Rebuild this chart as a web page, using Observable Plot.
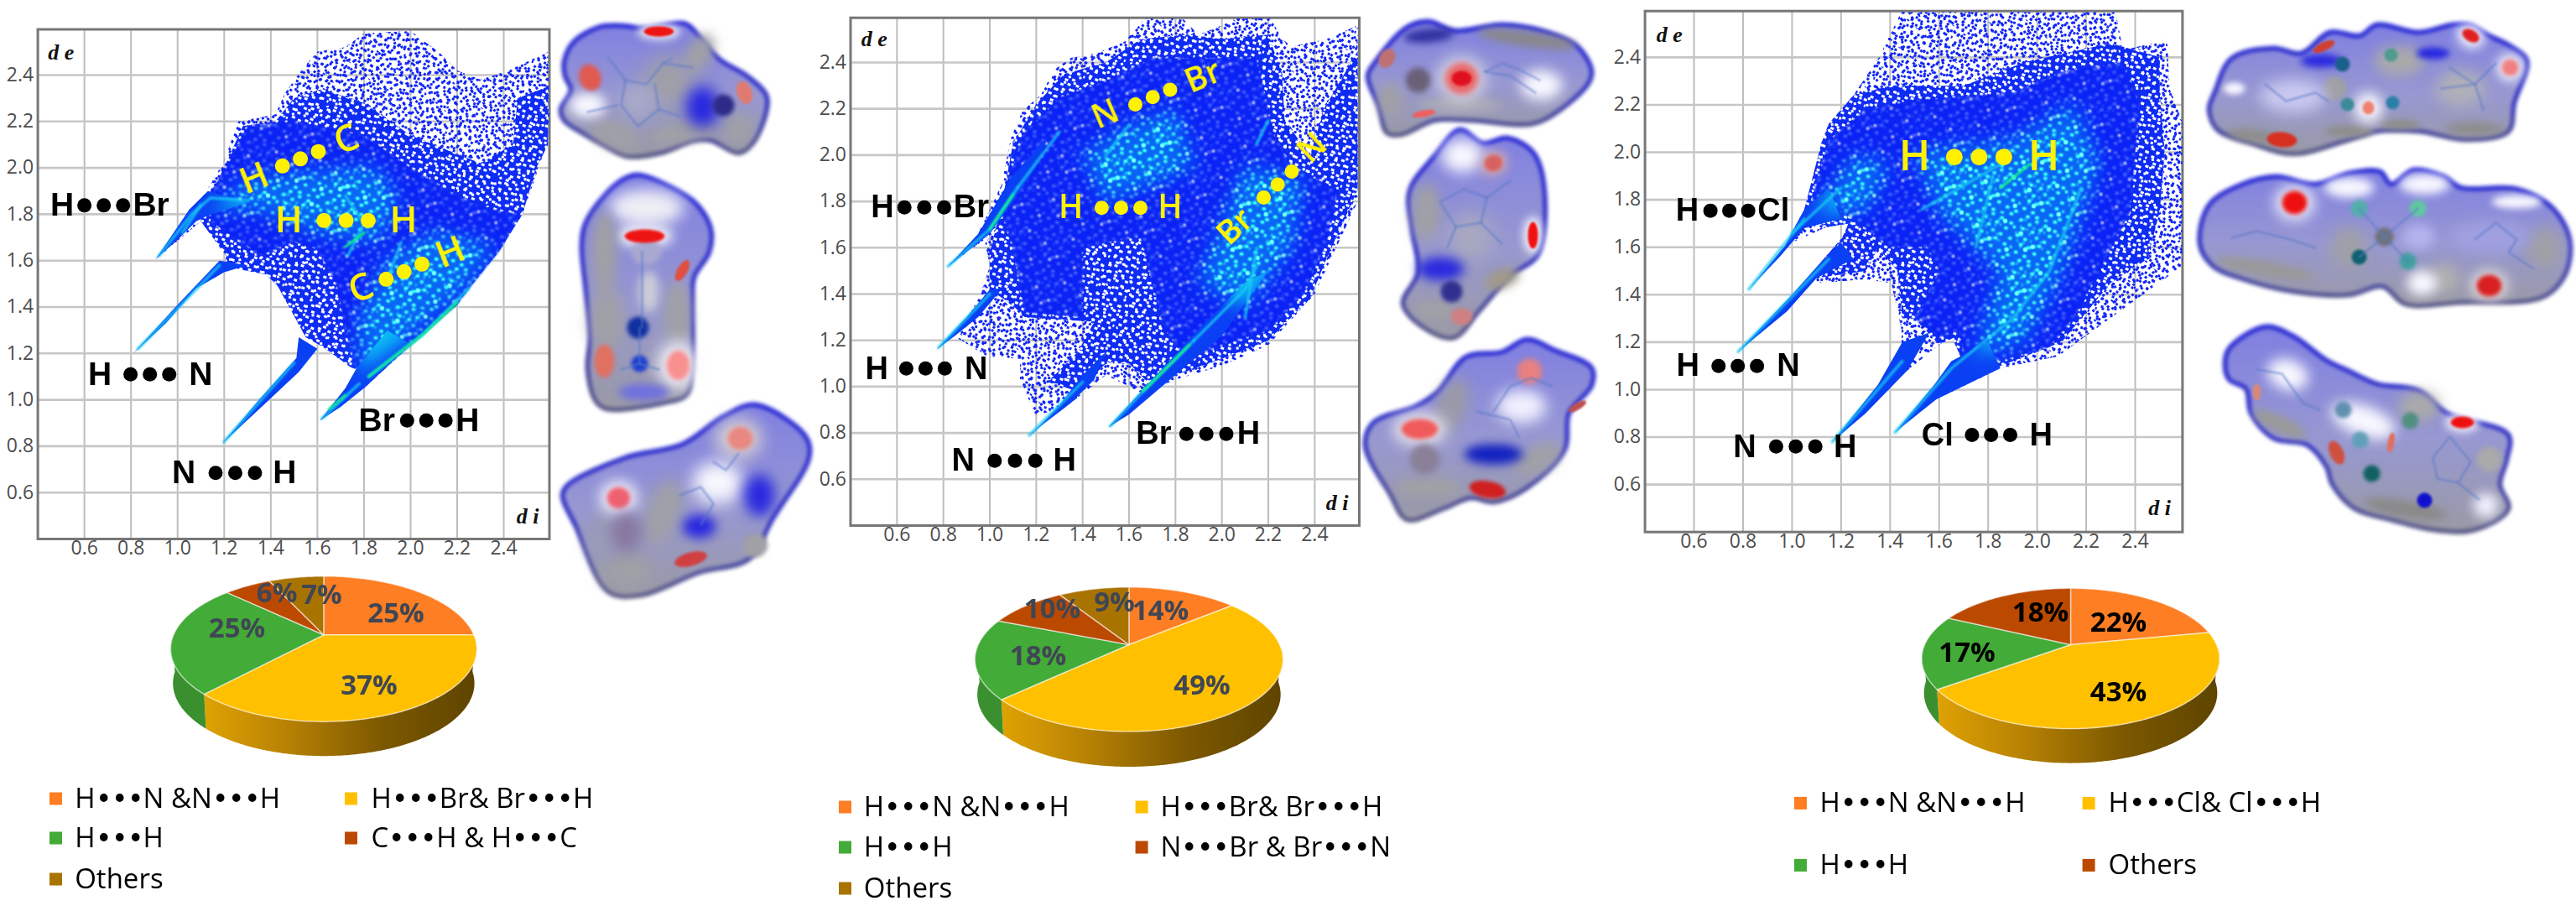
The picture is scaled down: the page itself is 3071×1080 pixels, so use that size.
<!DOCTYPE html>
<html><head><meta charset="utf-8">
<script src="https://cdn.jsdelivr.net/npm/d3@7"></script>
<script src="https://cdn.jsdelivr.net/npm/@observablehq/plot@0.6"></script>
<style>
@font-face{font-family:Bul;src:local("DejaVu Sans");unicode-range:U+2022}
html,body{margin:0;background:#fff}
#page{position:relative;width:3071px;height:1080px;overflow:hidden}
#page>svg.layer{position:absolute;max-width:none}
</style></head><body><div id="page"></div>
<script>
// ---------- tick values ----------
const xTicks=[.6,.8,1,1.2,1.4,1.6,1.8,2,2.2,2.4];
const yTicks=[.6,.8,1,1.2,1.4,1.6,1.8,2,2.2,2.4];

// ---------- fingerprint regions, read as [di, de] ----------
const hull1=[[.91,1.61],[1.02,1.73],[1.1,1.86],[1.2,2.03],[1.26,2.2],[1.42,2.23],[1.46,2.32],[1.53,2.42],[1.6,2.5],[1.72,2.52],[1.8,2.58],[2,2.59],[2.12,2.5],[2.2,2.42],[2.3,2.38],[2.42,2.42],[2.59,2.5],[2.594,2.3],[2.594,2.14],[2.55,2],[2.48,1.8],[2.38,1.64],[2.26,1.49],[2.2,1.41],[2,1.235],[1.8,1.05],[1.77,1.13],[1.745,1.14],[1.62,1.23],[1.55,1.27],[1.43,1.49],[1.38,1.54],[1.28,1.56],[1.2,1.58],[1.21,1.62],[1.165,1.68],[1.1,1.77]];
const medium1=[[1.1,1.8],[1.2,2],[1.28,2.18],[1.42,2.2],[1.5,2.3],[1.62,2.34],[1.8,2.28],[2,2.14],[2.15,2.08],[2.3,2.02],[2.44,2.1],[2.46,2.3],[2.59,2.35],[2.59,2.1],[2.54,2],[2.48,1.8],[2.38,1.64],[2.26,1.49],[2.2,1.41],[2,1.235],[1.8,1.05],[1.77,1.13],[1.745,1.14],[1.62,1.23],[1.55,1.27],[1.43,1.49],[1.38,1.54],[1.28,1.56],[1.2,1.58],[1.21,1.62],[1.165,1.68],[1.1,1.77]];
const dense1=[[1.12,1.86],[1.22,2.02],[1.3,2.18],[1.5,2.2],[1.8,2.14],[2,2],[2.2,1.88],[2.35,1.82],[2.47,1.8],[2.38,1.64],[2.26,1.49],[2.2,1.41],[2,1.235],[1.8,1.06],[1.76,1.15],[1.72,1.3],[1.68,1.5],[1.6,1.65],[1.5,1.68],[1.35,1.62],[1.25,1.7],[1.15,1.76]];
const spikes1=[[[.905,1.605],[1.05,1.82],[1.13,1.9],[1.3,1.85],[1.12,1.79],[1.08,1.77],[1,1.69]],[[.81,1.2],[1,1.41],[1.18,1.6],[1.3,1.58],[1.2,1.55],[1.08,1.48],[.95,1.33]],[[1.19,.81],[1.35,1],[1.51,1.18],[1.52,1.27],[1.6,1.22],[1.52,1.12],[1.35,.96]],[[1.61,.91],[1.72,1.05],[1.77,1.14],[1.9,1.3],[2,1.24],[1.8,1.05],[1.7,.97]]];
const cores1=[[[1.15,1.82],[1.3,1.95],[1.55,1.98],[1.85,2],[1.95,1.85],[1.85,1.68],[1.6,1.72],[1.35,1.82]],[[1.78,1.12],[2,1.28],[2.2,1.45],[2.36,1.66],[2.1,1.72],[1.9,1.6],[1.78,1.35]]];
const streaks1=[[[.92,1.62],[1.06,1.8],[1.14,1.87],[1.3,1.86]],[[.83,1.22],[1.18,1.58]],[[1.2,.82],[1.5,1.16]],[[1.62,.92],[1.78,1.07]],[[1.82,1.1],[2.05,1.28],[2.25,1.48]],[[1.73,1.62],[1.8,1.76],[1.72,1.88]],[[1.02,1.72],[1.1,1.84]],[[1.9,1.52],[1.96,1.68]]];

const hull2=[[.818,1.518],[.95,1.66],[1.05,1.87],[1.09,2.07],[1.14,2.19],[1.22,2.26],[1.28,2.37],[1.35,2.42],[1.46,2.44],[1.58,2.49],[1.67,2.59],[1.83,2.59],[1.9,2.52],[2,2.56],[2.06,2.59],[2.21,2.59],[2.26,2.5],[2.3,2.47],[2.45,2.5],[2.585,2.56],[2.585,1.8],[2.4,1.4],[2.2,1.18],[2,1.09],[1.8,1.03],[1.66,.97],[1.54,1.03],[1.5,1.05],[1.35,.93],[1.2,.87],[1.13,1.03],[1.13,1.12],[.99,1.13],[.86,1.21],[.96,1.4],[1,1.52],[.98,1.62],[1.01,1.66]];
const medium2=[[1.05,1.78],[1.1,2.05],[1.2,2.22],[1.32,2.35],[1.5,2.4],[1.65,2.5],[1.85,2.52],[2,2.5],[2.2,2.52],[2.26,2.35],[2.27,2.15],[2.38,2],[2.44,2.2],[2.585,2.45],[2.585,1.85],[2.45,1.55],[2.38,1.38],[2.2,1.2],[2,1.12],[1.8,1.05],[1.7,1],[1.6,1.1],[1.5,1.1],[1.38,.98],[1.25,1.02],[1.38,1.15],[1.45,1.28],[1.15,1.3],[1.1,1.35],[1,1.42],[1,1.58]];
const dense2=[[1.08,1.9],[1.15,2.1],[1.3,2.25],[1.5,2.32],[1.7,2.42],[2.15,2.42],[2.22,2.1],[2.3,1.95],[2.5,1.85],[2.45,1.62],[2.35,1.4],[2.2,1.24],[2,1.18],[1.85,1.12],[1.75,1.25],[1.7,1.45],[1.65,1.65],[1.4,1.6],[1.4,1.3],[1.15,1.32],[1.1,1.6],[1.05,1.75]];
const spikes2=[[[.818,1.518],[.95,1.66],[1.09,1.9],[1.16,1.98],[1.25,2.08],[1.2,1.95],[1.12,1.83],[1,1.66]],[[.77,1.16],[.9,1.3],[1,1.42],[1.05,1.42],[.95,1.3],[.85,1.22]],[[1.165,.78],[1.3,.92],[1.4,1.05],[1.5,1.15],[1.45,1.03],[1.35,.93],[1.22,.83]],[[1.51,.824],[1.7,1.03],[1.9,1.25],[2.1,1.45],[2.2,1.5],[2,1.22],[1.8,1.05],[1.6,.88]]];
const cores2=[[[1.4,2],[1.6,2.12],[1.8,2.2],[1.88,1.95],[1.5,1.8]],[[1.9,1.45],[2.1,1.95],[2.35,1.9],[2.3,1.6],[2.1,1.35]]];
const streaks2=[[[.82,1.52],[1,1.68],[1.12,1.86]],[[1.12,1.86],[1.3,2.1]],[[.78,1.17],[1,1.4]],[[1.17,.79],[1.4,1.02]],[[1.52,.83],[1.66,.98],[1.88,1.2]],[[1.88,1.2],[2.1,1.42],[2.15,1.52]],[[1.5,2],[1.6,2.13]],[[2.15,2.05],[2.2,2.15]],[[2.1,1.3],[2.15,1.6]]];

const hull3=[[.824,1.423],[.97,1.605],[1.05,1.76],[1.1,1.91],[1.12,2.04],[1.15,2.12],[1.25,2.24],[1.355,2.4],[1.446,2.59],[2.32,2.59],[2.35,2.43],[2.53,2.475],[2.54,2.27],[2.592,2.13],[2.592,1.52],[2.35,1.34],[2.085,1.14],[1.85,1.09],[1.59,.96],[1.65,1.09],[1.687,1.14],[1.654,1.216],[1.6,1.19],[1.47,1.08],[1.447,1.12],[1.447,1.25],[1.405,1.45],[1.29,1.465],[1.12,1.45],[1.07,1.47],[1.12,1.54],[1.205,1.64],[1.23,1.7],[1.14,1.685],[1,1.62]];
const medium3=[[1.05,1.76],[1.12,2.04],[1.15,2.12],[1.25,2.24],[1.4,2.28],[1.7,2.28],[1.95,2.38],[2.3,2.46],[2.5,2.4],[2.5,2.25],[2.52,2],[2.5,1.75],[2.45,1.55],[2.3,1.45],[2.1,1.2],[1.85,1.1],[1.59,.96],[1.65,1.09],[1.687,1.14],[1.654,1.216],[1.6,1.19],[1.5,1.3],[1.45,1.3],[1.43,1.5],[1.35,1.6],[1.3,1.5],[1.1,1.47],[1.12,1.54],[1.205,1.64],[1.23,1.7],[1.14,1.685]];
const dense3=[[1.08,1.8],[1.15,2.05],[1.3,2.18],[1.5,2.22],[1.9,2.25],[2.1,2.34],[2.35,2.38],[2.42,2.2],[2.4,2],[2.38,1.75],[2.28,1.55],[2.15,1.3],[2.05,1.18],[1.85,1.12],[1.7,1.15],[1.68,1.25],[1.6,1.22],[1.5,1.3],[1.6,1.5],[1.55,1.6],[1.4,1.6],[1.25,1.72]];
const spikes3=[[[.824,1.423],[.97,1.605],[1.05,1.76],[1.15,1.85],[1.2,1.72],[1.05,1.68],[.95,1.56]],[[.78,1.16],[1,1.4],[1.12,1.54],[1.2,1.62],[1.25,1.55],[1.1,1.47],[.98,1.33]],[[1.164,.78],[1.35,1.02],[1.45,1.2],[1.56,1.24],[1.47,1.08],[1.3,.9]],[[1.42,.82],[1.58,1.02],[1.65,1.12],[1.8,1.2],[1.85,1.09],[1.59,.96]]];
const cores3=[[[1.1,1.75],[1.25,1.98],[1.4,1.95],[1.3,1.75]],[[1.5,2],[1.9,2.05],[2.15,2.2],[2.25,1.95],[2.1,1.5],[1.95,1.2],[1.75,1.15],[1.85,1.5],[1.6,1.75]]];
const streaks3=[[[.824,1.423],[1.05,1.72]],[[1,1.66],[1.2,1.85]],[[.78,1.16],[1.15,1.55]],[[1.164,.78],[1.45,1.12]],[[1.42,.82],[1.65,1.09],[1.9,1.3],[2.05,1.5],[2.18,1.85]],[[1.53,1.76],[1.7,1.86],[1.85,1.95]],[[1.75,1.6],[1.82,1.9]]];

// ---------- contact labels: left, right, [di,de] of left text, right text, first dot, third dot, angle ----------
const blackLabels1=[["H","Br",.504,1.838,.886,1.838,.6,1.838,.766,1.838,0],["H","N",.666,1.11,1.099,1.11,.798,1.11,.964,1.11,0],["N","H",1.026,.685,1.459,.685,1.163,.685,1.332,.685,0],["Br","H",1.855,.911,2.244,.911,1.985,.911,2.15,.911,0]];
const yellowLabels1=[["H","H",1.477,1.773,1.97,1.773,1.628,1.773,1.818,1.773,0],["H","C",1.329,1.954,1.725,2.122,1.45,2.008,1.604,2.07,-22],["C","H",1.787,1.48,2.171,1.635,1.895,1.52,2.049,1.585,-22]];
const blackLabels2=[["H","Br",.537,1.774,.92,1.774,.632,1.774,.803,1.774,0],["H","N",.513,1.078,.941,1.078,.64,1.078,.806,1.078,0],["N","H",.885,.68,1.322,.68,1.021,.68,1.196,.68,0],["Br","H",1.706,.796,2.115,.796,1.847,.796,2.019,.796,0]];
const yellowLabels2=[["H","H",1.349,1.772,1.777,1.772,1.482,1.772,1.649,1.772,0],["N","Br",1.499,2.173,1.92,2.336,1.627,2.219,1.777,2.282,-23],["Br","N",2.056,1.69,2.392,2.028,2.18,1.817,2.301,1.929,-43]];
const blackLabels3=[["H","Cl",.572,1.754,.924,1.754,.667,1.754,.821,1.754,0],["H","N",.575,1.1,.985,1.1,.7,1.1,.857,1.1,0],["N","H",.807,.76,1.217,.76,.935,.76,1.095,.76,0],["Cl","H",1.593,.809,2.016,.809,1.734,.809,1.89,.809,0]];
const yellowLabels3=[["H","H",1.5,1.98,2.027,1.98,1.662,1.98,1.864,1.98,0]];

// ---------- pie values ----------
const orange="#fd7e23",yellow="#ffc000",green="#43ab37",rust="#bb4a00",brown="#a97300";
const values1=[25,37,25,6,7], colors1=[orange,yellow,green,rust,brown];
const values2=[14,49,18,10,9], colors2=[orange,yellow,green,rust,brown];
const values3=[22,43,17,18],   colors3=[orange,yellow,green,rust];
const legend1=["H•••N &N•••H","H•••Br& Br•••H","H•••H","C•••H & H•••C","Others"];
const legend2=["H•••N &N•••H","H•••Br& Br•••H","H•••H","N•••Br & Br•••N","Others"];
const legend3=["H•••N &N•••H","H•••Cl& Cl•••H","H•••H","Others"];

// ---------- layout ----------
const pies=[
 {values:values1,colors:colors1,legend:legend1,ax:385.4,ay:756.3,A:179,B:83.4,k:.193,D:41,wall:"wall1",ink:"#404654",weight:700,
  spots:[[471.6,731],[439.6,817],[282,749],[329.6,707],[383,709]],
  lx:[59,411],ly:[952,999,1048],tx:[88.7,442]},
 {values:values2,colors:colors2,legend:legend2,ax:1345.4,ay:768,A:179.7,B:82.5,k:.203,D:42,wall:"wall1",ink:"#404654",weight:700,
  spots:[[1383,728],[1432.6,817],[1237,782],[1254,726],[1328,718]],
  lx:[1000,1353.6],ly:[962,1010,1059],tx:[1029.3,1383]},
 {values:values3,colors:colors3,legend:legend3,ax:2468,ay:768,A:174,B:80.4,k:.197,D:41,wall:"wall1",ink:"#000",weight:700,
  spots:[[2525,742],[2525,825],[2344.5,778],[2432,730]],
  lx:[2139,2482.6],ly:[957.4,1031.4],tx:[2169,2513]}
];

// ---------- molecular surfaces: outline, patches [cx,cy,rx,ry,deg,colour], bonds ----------
const R="#ee1414",P="#ee7070",G="#a0a0a6",W="#f8f8ff",L="#b4b4ee",U="#2828e0";
const surfaces=[
 {o:[[672,73],[683,50],[713,32],[740,30],[767,33],[817,28],[833,43],[857,70],[890,90],[913,113],[913,133],[897,170],[880,182],[847,167],[827,167],[787,182],[747,186],[720,173],[697,160],[672,143],[668,130],[680,107],[673,90]],
  p:[[833,63,15,25,30,G],[797,97,30,30,0,G],[813,157,40,12,-10,G],[733,160,30,15,20,G],[880,153,15,18,20,G],[760,120,22,22,0,"#a8a8c8"],[837,127,20,25,0,U],[700,125,22,15,0,W],[785,37,26,10,0,"#e4e4f0"],[785,37,18,6,0,R],[703,92,13,16,-20,"#e05a50"],[887,110,9,14,-20,"#e07a70"],[862,125,13,13,0,"#2c2c88"]],
  b:[[[725,68],[745,95],[770,100],[790,75],[800,70]],[[745,95],[740,125],[760,150],[785,130],[780,100]],[[700,133],[735,125]],[[790,75],[825,80]],[[785,130],[810,138]]]},
 {o:[[760,208],[800,223],[830,243],[847,273],[845,300],[827,330],[825,360],[825,440],[818,470],[790,480],[723,487],[710,478],[700,440],[703,400],[698,347],[693,293],[697,267],[720,233],[743,213]],
  p:[[770,247,45,22,0,"#eeeef6"],[768,281,34,14,0,"#f2f2f8"],[720,300,15,50,0,G],[807,373,15,40,0,G],[723,380,20,40,0,G],[773,347,12,25,0,"#cdcdd8"],[770,300,18,16,0,"#a8a8d0"],[808,435,24,28,0,W],[767,467,30,10,0,"#7070e0"],[768,281,24,8,0,R],[813,322,6,14,30,"#e05040"],[720,430,12,20,0,"#e07060"],[808,435,14,18,0,"#f89090"],[760,390,13,13,0,"#1030a0"],[762,433,10,10,0,"#2040d0"]],
  b:[[[762,390],[762,433]],[[740,440],[762,433],[785,440]],[[765,300],[765,390]]]},
 {o:[[670,590],[676,578],[745,545],[813,529],[862,496],[900,482],[960,520],[964,545],[921,617],[892,666],[833,682],[764,709],[725,705],[686,627]],
  p:[[745,680,30,20,0,G],[790,610,20,40,20,G],[720,640,20,30,0,"#9a9ab8"],[880,522,28,24,0,"#d8d0d0"],[855,575,30,25,0,W],[833,627,20,14,0,U],[737,593,22,20,0,W],[737,593,14,13,0,"#f06070"],[746,633,18,24,0,"#8878a0"],[882,522,15,14,0,"#e88880"],[823,666,20,8,-15,"#d04040"],[905,590,18,25,0,U],[900,650,15,14,-20,G]],
  b:[[[850,550],[865,560],[880,540]],[[810,590],[835,580],[850,600],[835,625]]]},
 {o:[[1630,90],[1640,72],[1677,32],[1703,25],[1733,36],[1790,29],[1837,36],[1880,55],[1897,84],[1893,99],[1860,130],[1827,147],[1753,143],[1710,143],[1670,160],[1653,158],[1643,126]],
  p:[[1820,46,60,9,8,"#88888c"],[1703,42,30,8,-5,"#3030a0"],[1657,118,14,20,0,G],[1740,125,50,10,0,"#a8a8b8"],[1837,101,25,18,0,"#f8f8ff"],[1742,93,28,25,0,"#e0e0e8"],[1742,93,20,19,0,"#e86a6a"],[1742,93,12,9,0,"#e01020"],[1690,95,15,15,0,"#6a6078"],[1653,69,9,12,30,"#c07070"],[1697,135,14,4,-10,"#ee6060"]],
  b:[[[1770,85],[1790,75],[1810,82],[1835,95]],[[1770,85],[1800,90],[1830,110]]]},
 {o:[[1680,227],[1710,185],[1740,154],[1767,170],[1797,164],[1827,181],[1840,219],[1833,303],[1800,328],[1763,370],[1733,402],[1703,394],[1672,362],[1690,324],[1683,274]],
  p:[[1700,253,17,35,0,G],[1753,282,28,28,0,"#a8a8c0"],[1790,332,22,11,-20,"#a09a8a"],[1743,185,25,20,0,W],[1717,320,28,14,0,U],[1710,370,25,12,10,G],[1780,194,16,14,-20,"#ddb0b0"],[1780,194,11,10,-20,"#d86060"],[1827,280,11,22,0,W],[1827,280,6,16,0,"#f01010"],[1730,347,13,13,0,"#303090"],[1742,377,13,10,0,"#d08080"]],
  b:[[[1716,240],[1735,270],[1765,265],[1772,235],[1745,225],[1716,240]],[[1772,235],[1800,215]],[[1765,265],[1790,290]],[[1735,270],[1725,295]]]},
 {o:[[1627,530],[1637,503],[1687,484],[1713,467],[1747,425],[1790,419],[1820,404],[1853,417],[1897,438],[1897,459],[1870,492],[1865,535],[1820,581],[1780,598],[1753,593],[1720,606],[1677,619],[1657,589]],
  p:[[1703,581,40,12,0,G],[1730,484,18,35,20,"#9a9aa8"],[1833,547,30,15,-30,G],[1813,484,30,20,0,"#f0f0ff"],[1692,511,32,20,0,"#e8e4ea"],[1692,511,22,12,0,"#f05a5a"],[1698,547,18,18,0,"#8a8098"],[1780,541,35,12,0,"#1020c0"],[1773,583,22,10,10,"#d02020"],[1823,442,15,15,0,"#e88080"],[1880,484,12,4,-30,"#c05050"]],
  b:[[[1780,490],[1800,460],[1825,450],[1850,460]],[[1760,490],[1800,500],[1810,520]]]},
 {o:[[2633,130],[2640,109],[2660,69],[2710,57],[2743,63],[2777,38],[2813,42],[2833,29],[2883,38],[2923,29],[2943,29],[2967,42],[2993,55],[3012,72],[2997,122],[2990,156],[2940,166],[2883,156],[2833,156],[2800,166],[2733,183],[2683,170],[2643,154]],
  p:[[2860,72,30,18,0,"#aaaaaa"],[2783,105,14,14,0,G],[2933,105,30,22,0,"#b0b0b8"],[2690,162,35,8,8,"#8e8e8e"],[2800,156,30,7,0,"#8e8e8e"],[2860,148,25,6,0,"#8e8e8e"],[2950,153,35,8,0,"#8e8e8e"],[2733,114,40,20,0,"#c8c8f0"],[2767,72,25,8,0,U],[2900,63,20,7,0,U],[2720,166,18,9,5,"#d83020"],[2945,42,17,14,30,W],[2945,42,11,7,30,"#e02020"],[2992,80,16,16,0,W],[2992,80,10,10,0,"#f08080"],[2823,128,17,18,0,W],[2823,128,7,8,0,"#f08070"],[2770,55,14,5,-25,"#d04030"],[2663,105,13,7,0,W],[2850,65,8,8,0,"#509a90"],[2792,76,9,9,0,"#1a5f8a"],[2798,124,8,8,0,"#3a8a9a"],[2852,122,8,8,0,"#2a80a8"]],
  b:[[[2700,100],[2725,120],[2760,110],[2775,120]],[[2920,80],[2950,100],[2975,75]],[[2910,105],[2950,100],[2960,130]]]},
 {o:[[2622,290],[2633,244],[2673,219],[2713,210],[2760,219],[2800,206],[2837,204],[2850,219],[2877,202],[2913,210],[2933,223],[3000,225],[3043,248],[3063,286],[3057,328],[3030,354],[2933,360],[2867,362],[2840,341],[2800,351],[2733,347],[2673,332],[2637,316]],
  p:[[2800,295,22,25,0,G],[3033,295,22,25,0,G],[2913,332,18,18,0,"#b0b0b0"],[2700,320,60,9,10,"#999999"],[2800,223,30,12,0,W],[2890,219,30,12,0,W],[3000,240,30,8,0,W],[2967,282,50,18,0,"#a0a0e0"],[2883,282,20,15,0,L],[2887,337,18,15,0,W],[2735,241,23,20,0,W],[2967,340,22,18,0,"#e8e0e0"],[2735,241,15,14,0,"#ee1010"],[2967,340,15,13,0,"#d82020"],[2812,248,10,10,0,"#50b0a8"],[2882,248,10,10,0,"#60c8a0"],[2812,306,9,9,0,"#106070"],[2870,311,10,10,0,"#40a0a0"],[2842,282,11,11,0,"#707078"]],
  b:[[[2660,283],[2690,275],[2730,285],[2760,295]],[[2812,248],[2842,282],[2812,306]],[[2882,248],[2842,282],[2870,311]],[[2950,285],[2975,265],[3000,285],[2990,300],[3020,320]]]},
 {o:[[2652,434],[2657,415],[2700,389],[2733,400],[2773,429],[2800,442],[2833,457],[2883,465],[2917,492],[2990,518],[2988,547],[2980,577],[2990,606],[2950,631],[2900,631],[2850,619],[2807,606],[2780,577],[2773,556],[2750,530],[2710,522],[2683,492],[2677,463],[2657,452]],
  p:[[2883,484,25,18,0,"#aaaaaa"],[2867,606,50,10,10,"#8a8a8a"],[2717,505,35,10,25,"#999999"],[2967,547,15,15,0,"#aaaaaa"],[2727,446,25,18,20,W],[2817,501,40,18,20,W],[2963,602,15,15,0,"#f0f0ff"],[2890,596,9,9,0,"#1010d0"],[2935,503,20,11,0,W],[2935,503,14,7,0,"#ee1010"],[2785,539,8,15,-25,"#d05040"],[2690,467,5,10,0,"#d88878"],[2850,527,4,12,10,"#e07060"],[2793,488,10,10,0,"#6090b0"],[2813,524,10,10,0,"#60a0b8"],[2873,501,10,10,0,"#509080"],[2827,564,10,10,0,"#106060"]],
  b:[[[2690,440],[2720,445],[2745,480],[2765,488]],[[2900,545],[2920,520],[2945,550],[2930,575],[2905,570],[2900,545]],[[2930,575],[2955,595]]]}
];

// ---------- speckle tiles (positions inside a pattern tile) ----------
const specksA="2,3 9,1 16,5 24,2 31,7 5,10 13,12 21,9 28,14 34,12 1,18 8,20 17,17 25,21 32,24 4,27 12,28 20,25 27,30 35,31 9,34 17,33";
const specksB="3,2 14,6 22,1 33,4 45,8 7,12 19,14 28,10 40,15 50,12 2,21 12,24 25,20 35,23 47,26 8,31 18,33 30,29 42,34 51,36 4,41 15,44 26,39 37,43 48,46 10,50 21,49 32,51 43,50";
const specksC="1,2 7,6 14,1 20,7 27,3 4,12 11,15 18,12 25,14 2,21 9,24 16,20 23,25 28,21 6,29 13,28 20,30";
const specksD="6,18 23,31 38,7 46,40 15,36";
const path=(s,w,h)=>s.split(" ").map(p=>{const[a,b]=p.split(",");return `M${a} ${b}h${w}v${h}h${-w}z`}).join("");
const page=document.getElementById("page");
const defs=document.createElementNS("http://www.w3.org/2000/svg","svg");
defs.setAttribute("width",0);defs.setAttribute("height",0);defs.style.position="absolute";
defs.innerHTML=`<defs>
<pattern id="sparseA" width="37" height="37" patternUnits="userSpaceOnUse" patternTransform="rotate(17)"><path d="${path(specksA,3,3)}" fill="#1226f5"/></pattern>
<pattern id="sparseB" width="53" height="53" patternUnits="userSpaceOnUse" patternTransform="rotate(-29)"><path d="${path(specksB,3,3)}" fill="#1226f5"/></pattern>
<pattern id="sparseC" width="31" height="31" patternUnits="userSpaceOnUse" patternTransform="rotate(41)"><path d="${path(specksC,3,3)}" fill="#1226f5"/></pattern>
<pattern id="medium" width="37" height="37" patternUnits="userSpaceOnUse" patternTransform="rotate(23)"><rect width="37" height="37" fill="#0f2cf4"/><path d="${path(specksA,4,3)}" fill="#fff"/></pattern>
<pattern id="whiteB" width="53" height="53" patternUnits="userSpaceOnUse" patternTransform="rotate(-13)"><path d="${path(specksB,3,3)}" fill="#fff"/></pattern>
<pattern id="dense" width="53" height="53" patternUnits="userSpaceOnUse" patternTransform="rotate(11)"><rect width="53" height="53" fill="#0a22f5"/><path d="${path(specksB,4,3)}" fill="#4f70ff"/><path d="${path(specksA,2,3)}" fill="#2a4cff"/><path d="${path(specksD,3,3)}" fill="#fff"/></pattern>
<linearGradient id="wall1" x1="0" x2="1" y1="0" y2="0"><stop offset="0" stop-color="#dfa203"/><stop offset=".3" stop-color="#b88204"/><stop offset=".65" stop-color="#7d5900"/><stop offset="1" stop-color="#5e4400"/></linearGradient>
<linearGradient id="baseFill" x1="0" x2="0" y1="0" y2="1"><stop offset="0" stop-color="#7f7fe2"/><stop offset=".55" stop-color="#9898d2"/><stop offset="1" stop-color="#9a9aa6"/></linearGradient>
<linearGradient id="rim" x1="0" x2="0" y1="0" y2="1"><stop offset="0" stop-color="#3030d8"/><stop offset=".6" stop-color="#3e3ec4"/><stop offset="1" stop-color="#62628c"/></linearGradient>
</defs>`;
page.appendChild(defs);

// ---------- helpers ----------
const poly=(pts,o)=>Plot.line(pts,{x:d=>d[0],y:d=>d[1],stroke:"none",curve:"linear-closed",...o});
const place=(svg,left,top)=>{svg.classList.add("layer");svg.style.left=left+"px";svg.style.top=top+"px";page.appendChild(svg)};
function ellipse([cx,cy,rx,ry,deg]){const a=deg*Math.PI/180;return d3.range(10).map(i=>{const t=i/10*2*Math.PI,u=rx*Math.cos(t),v=ry*Math.sin(t);return[cx+u*Math.cos(a)-v*Math.sin(a),cy+u*Math.sin(a)+v*Math.cos(a)]})}
function labelMarks(list,fill,fontSize,fontFamily,fontWeight,r){
  const texts=[],dots=[];
  for(const[a,b,xa,ya,xb,yb,x1,y1,x3,y3,rot]of list){
    texts.push({t:a,x:xa,y:ya,rot},{t:b,x:xb,y:yb,rot});
    dots.push([x1,y1],[(x1+x3)/2,(y1+y3)/2],[x3,y3]);
  }
  return[Plot.text(texts,{x:"x",y:"y",text:"t",rotate:"rot",fill,fontSize,fontFamily,fontWeight,imageFilter:"blur(.5px)"}),
         Plot.dot(dots,{x:d=>d[0],y:d=>d[1],r,fill,stroke:"none"})];
}
function patchBlur(p){
  const c=d3.color(p[5]),small=Math.min(p[2],p[3]);
  const reddish=c.r>190&&c.g<150;
  const ball=Math.abs(p[2]-p[3])<3&&small<=18&&c.r<175;
  return (reddish||ball)?Math.max(1.2,small*.2):small*.35+1.5;
}
const dodge=(i,s,v,d,c,next)=>{const g=next(i,s,v,d,c);g.style.mixBlendMode="color-dodge";return g};

// ---------- background layer: surfaces, pies, legends ----------
const bgMarks=[];
for(const s of surfaces){
  bgMarks.push(Plot.line(s.o,{x:d=>d[0],y:d=>d[1],fill:"url(#baseFill)",stroke:"url(#rim)",strokeWidth:6,curve:"catmull-rom-closed",imageFilter:"blur(2px)"}));
  for(const p of s.p){
    bgMarks.push(Plot.line(ellipse(p),{x:d=>d[0],y:d=>d[1],fill:p[5],stroke:"none",curve:"catmull-rom-closed",imageFilter:`blur(${patchBlur(p)}px)`}));
  }
  for(const b of s.b) bgMarks.push(Plot.line(b,{x:d=>d[0],y:d=>d[1],stroke:"#5a7ac8",strokeWidth:2.5,strokeOpacity:.55,imageFilter:"blur(1px)"}));
}
const fontBody="Bul,'Open Sans'";
for(const p of pies){
  const proj=(deg)=>{const t=deg*Math.PI/180,u=Math.sin(t),v=Math.cos(t),w=1+p.k*v;return[p.ax+p.A*u/w,p.ay-p.B*v/w]};
  const arcs=d3.pie().sort(null)(p.values).map((a,i)=>({a0:a.startAngle*180/Math.PI,a1:a.endAngle*180/Math.PI,c:p.colors[i],v:p.values[i]}));
  for(const a of arcs){
    const from=Math.max(a.a0,92),to=Math.min(a.a1,268);
    if(to<=from) continue;
    const top=d3.range(from,to,1).concat([to]).map(proj);
    const bottom=top.map(([x,y])=>[p.ax+(x-p.ax)*.985,y+p.D]).reverse();
    bgMarks.push(poly(top.concat(bottom),{fill:a.c===yellow?`url(#${p.wall})`:a.c===green?"#3a8f2e":a.c}));
  }
  for(const a of arcs){
    const ring=d3.range(a.a0,a.a1,1).concat([a.a1]).map(proj);
    bgMarks.push(poly([[p.ax,p.ay],...ring],{fill:a.c,stroke:"#fff",strokeOpacity:.55,strokeWidth:1.5}));
  }
  bgMarks.push(Plot.text(arcs.map((a,i)=>({t:a.v+"%",x:p.spots[i][0],y:p.spots[i][1]})),{x:"x",y:"y",text:"t",fill:p.ink,fontSize:33,fontFamily:"'Open Sans'",fontWeight:p.weight,imageFilter:"blur(.4px)"}));
  const rows=p.legend.map((t,i)=>({t,c:p.colors[i],col:i%2,row:Math.floor(i/2)}));
  bgMarks.push(Plot.rect(rows,{x1:d=>p.lx[d.col],x2:d=>p.lx[d.col]+15,y1:d=>p.ly[d.row]-7.5,y2:d=>p.ly[d.row]+7.5,fill:"c",inset:0}));
  bgMarks.push(Plot.text(rows,{x:d=>p.tx[d.col],y:d=>p.ly[d.row],text:"t",textAnchor:"start",fill:"#000",fontSize:33,fontFamily:fontBody,imageFilter:"blur(.4px)"}));
}
place(Plot.plot({width:3071,height:1080,margin:0,x:{domain:[0,3071],range:[0,3071],axis:null},y:{domain:[0,1080],range:[0,1080],axis:null},color:{type:"identity"},marks:bgMarks}),0,0);

// ---------- fingerprint panels ----------
function panel(cfg){
  const region=(pts,o)=>poly(pts,o);
  return Plot.plot({
    width:cfg.w,height:680,marginLeft:cfg.ml,marginRight:cfg.mr,marginTop:cfg.mt,marginBottom:cfg.mb,
    x:{domain:[.4,cfg.xMax]},y:{domain:[.4,cfg.yMax]},
    marks:[
      Plot.frame({fill:"#fff"}),
      Plot.ruleX(xTicks,{stroke:"#bdbdbd",strokeWidth:2}),
      Plot.ruleY(yTicks,{stroke:"#c6c6c6",strokeWidth:2.6}),
      Plot.frame({stroke:"#777",strokeWidth:3}),
      Plot.axisX({ticks:xTicks,tickSize:0,tickPadding:2,tickFormat:d=>d.toFixed(1),fontSize:23,fontFamily:"'Open Sans'",fill:"#4d4d4d",label:null}),
      Plot.axisY({ticks:yTicks,tickSize:0,tickPadding:5,tickFormat:d=>d.toFixed(1),fontSize:23,fontFamily:"'Open Sans'",fill:"#4d4d4d",label:null}),
      region(cfg.hull,{fill:"url(#sparseA)",imageFilter:"blur(.5px)"}),
      region(cfg.hull,{fill:"url(#sparseB)",imageFilter:"blur(.5px)"}),
      region(cfg.hull,{fill:"url(#sparseC)",imageFilter:"blur(.5px)"}),
      region(cfg.medium,{fill:"url(#medium)",imageFilter:"blur(.6px)"}),
      region(cfg.medium,{fill:"url(#whiteB)",imageFilter:"blur(.6px)"}),
      region(cfg.dense,{fill:"url(#dense)",imageFilter:"blur(.9px)"}),
      ...cfg.spikes.map(s=>region(s,{fill:"#0a40f4",imageFilter:"blur(.7px)"})),
      ...cfg.cores.map(s=>region(s,{fill:"rgb(0,170,0)",imageFilter:"blur(11px)",render:dodge})),
      ...cfg.streaks.map(s=>Plot.line(s,{x:d=>d[0],y:d=>d[1],stroke:"#18c8f4",strokeWidth:3.5,strokeOpacity:.8,imageFilter:"blur(1.3px)"})),
      ...cfg.hot.map(s=>Plot.line(s,{x:d=>d[0],y:d=>d[1],stroke:"#10f090",strokeWidth:3,imageFilter:"blur(.8px)"})),
      Plot.text([{t:"d e",x:cfg.de[0],y:cfg.de[1]},{t:"d i",x:cfg.di[0],y:cfg.di[1]}],{x:"x",y:"y",text:"t",fontFamily:"'Liberation Serif'",fontWeight:700,fontStyle:"italic",fontSize:26,fill:"#111"}),
      ...labelMarks(cfg.black,"#000",cfg.blackSize,"'Liberation Sans'",700,8.5),
      ...labelMarks(cfg.yellow,"#fff200",cfg.yellowSize,"'Open Sans'",600,cfg.yellowR)
    ]
  });
}
const hot1=[[[1.82,1.1],[2.05,1.28],[2.2,1.42]],[[1.65,.96],[1.72,1.02]],[[1.72,1.66],[1.8,1.72]]];
const hot2=[[[1,1.68],[1.1,1.83]],[[1.66,.98],[1.86,1.18]]];
const hot3=[[[1.85,1.85],[1.97,1.95]]];
place(panel({w:680,ml:44.6,mr:25.5,mt:34.5,mb:38,xMax:2.596,yMax:2.597,hull:hull1,medium:medium1,dense:dense1,spikes:spikes1,cores:cores1,streaks:streaks1,hot:hot1,black:blackLabels1,yellow:yellowLabels1,blackSize:39,yellowSize:44,yellowR:9,de:[.5,2.498],di:[2.503,.498]}),0,0);
place(panel({w:680,ml:43.5,mr:30,mt:20.7,mb:54,xMax:2.592,yMax:2.593,hull:hull2,medium:medium2,dense:dense2,spikes:spikes2,cores:cores2,streaks:streaks2,hot:hot2,black:blackLabels2,yellow:yellowLabels2,blackSize:38,yellowSize:39,yellowR:8.5,de:[.502,2.499],di:[2.497,.499]}),970,0);
place(panel({w:710,ml:45.6,mr:23.6,mt:12.7,mb:46.3,xMax:2.593,yMax:2.595,hull:hull3,medium:medium3,dense:dense3,spikes:spikes3,cores:cores3,streaks:streaks3,hot:hot3,black:blackLabels3,yellow:yellowLabels3,blackSize:38,yellowSize:50,yellowR:10,de:[.5,2.496],di:[2.5,.5]}),1915,0);
</script></body></html>
